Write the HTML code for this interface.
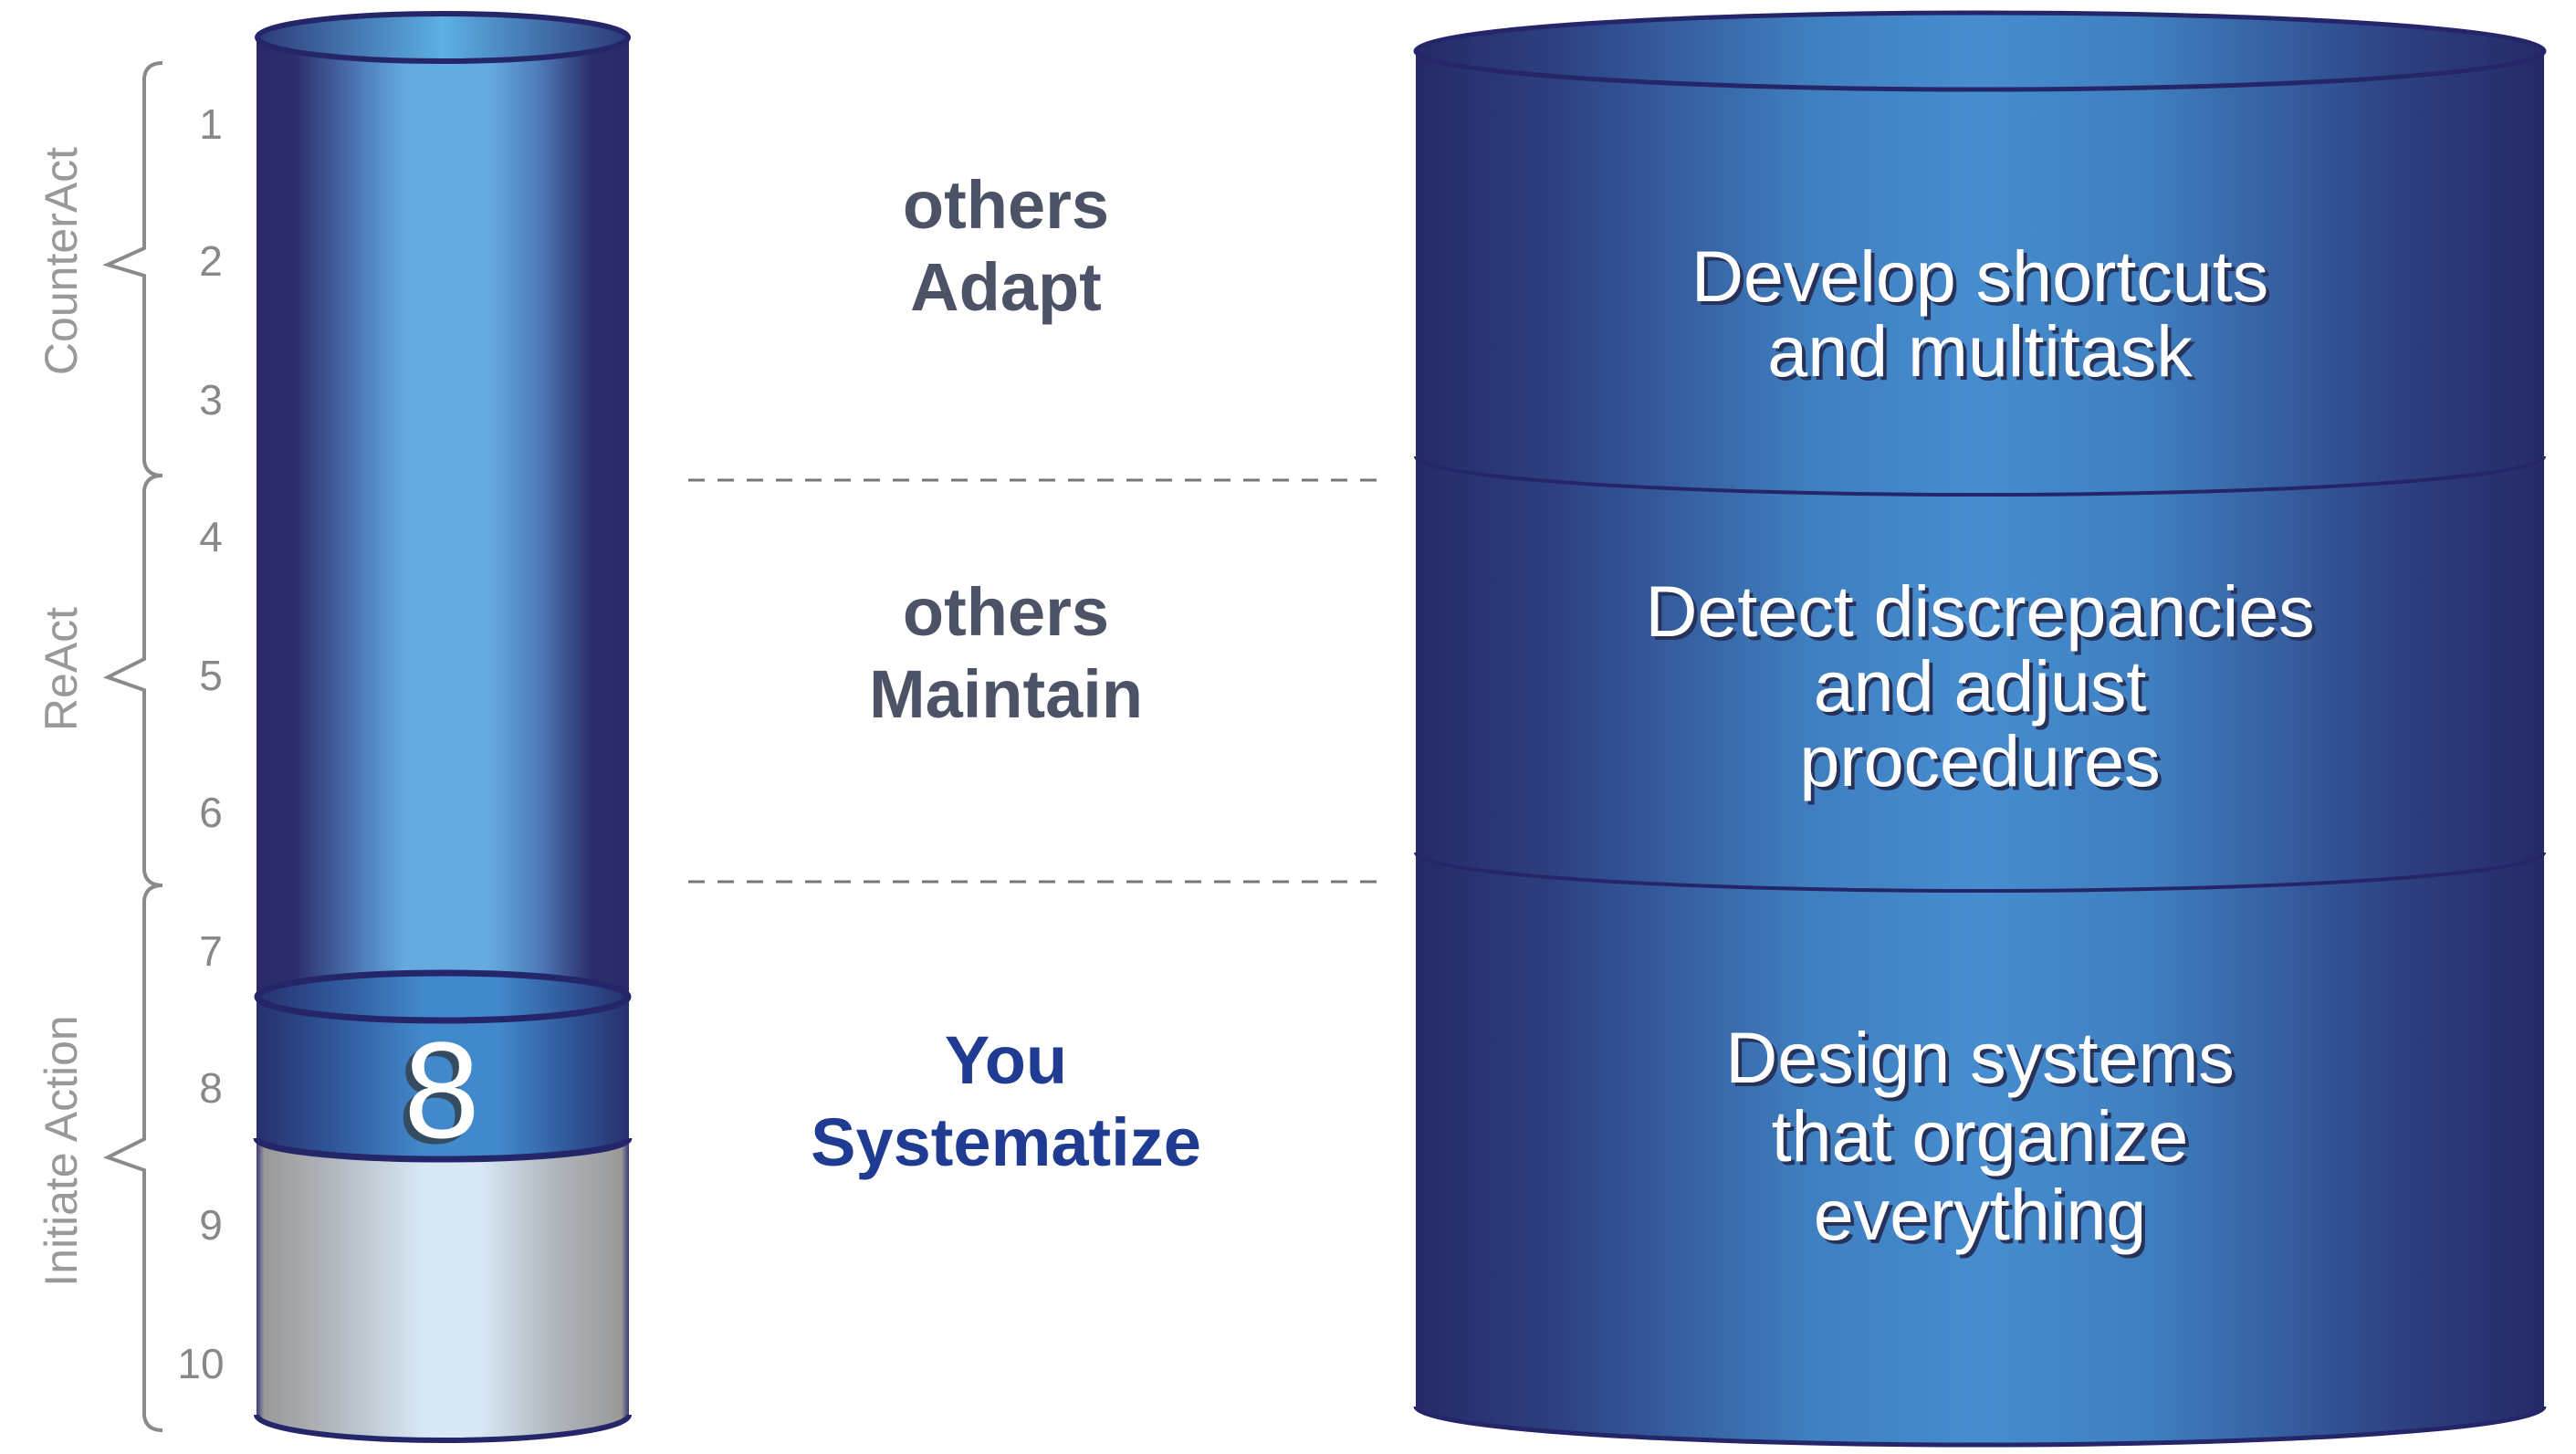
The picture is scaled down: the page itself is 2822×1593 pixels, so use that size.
<!DOCTYPE html>
<html><head><meta charset="utf-8"><style>html,body{margin:0;padding:0;background:#fff}svg{display:block}</style></head>
<body>
<svg width="2822" height="1593" viewBox="0 0 2822 1593" xmlns="http://www.w3.org/2000/svg" font-family="Liberation Sans, sans-serif">
<defs>
<linearGradient id="lc" x1="0" x2="1" y1="0" y2="0">
<stop offset="0" stop-color="#2a2a68"/><stop offset="0.1" stop-color="#2c2d6b"/><stop offset="0.3" stop-color="#5283c0"/><stop offset="0.4" stop-color="#65abdf"/><stop offset="0.62" stop-color="#65abdf"/><stop offset="0.75" stop-color="#4f80bd"/><stop offset="0.9" stop-color="#2c2d6b"/><stop offset="1" stop-color="#2a2a68"/></linearGradient>
<linearGradient id="lt" x1="0" x2="1"><stop offset="0" stop-color="#2c3a78"/><stop offset="0.5" stop-color="#5cb0e4"/><stop offset="1" stop-color="#2c3a78"/></linearGradient>
<linearGradient id="bd" x1="0" x2="1"><stop offset="0" stop-color="#27306e"/><stop offset="0.2" stop-color="#2f5597"/><stop offset="0.45" stop-color="#4289cb"/><stop offset="0.65" stop-color="#4289cb"/><stop offset="0.85" stop-color="#2f5597"/><stop offset="1" stop-color="#27306e"/></linearGradient>
<linearGradient id="gr" x1="0" x2="1"><stop offset="0" stop-color="#3a3a78"/><stop offset="0.02" stop-color="#999"/><stop offset="0.2" stop-color="#b0b6bc"/><stop offset="0.45" stop-color="#d8e8f6"/><stop offset="0.6" stop-color="#d8e8f6"/><stop offset="0.8" stop-color="#b0b6bc"/><stop offset="0.98" stop-color="#999"/><stop offset="1" stop-color="#3a3a78"/></linearGradient>
<linearGradient id="rc" x1="0" x2="1"><stop offset="0" stop-color="#262a66"/><stop offset="0.12" stop-color="#2d3f80"/><stop offset="0.35" stop-color="#3f7fc0"/><stop offset="0.5" stop-color="#468dcf"/><stop offset="0.65" stop-color="#3f7fc0"/><stop offset="0.88" stop-color="#2d3f80"/><stop offset="1" stop-color="#262a66"/></linearGradient>
<filter id="sh"><feDropShadow dx="4" dy="4" stdDeviation="0" flood-color="#27305a"/></filter>
</defs>

<!-- left cylinder -->
<path d="M281,41 L281,1247 L689,1247 L689,41 Z" fill="url(#lc)"/>
<path d="M281,1247 L281,1550 A204,28 0 0 0 689,1550 L689,1247 Z" fill="url(#gr)"/>
<path d="M281,1092 L281,1247 A204,23 0 0 0 689,1247 L689,1092 Z" fill="url(#bd)"/>
<path d="M281,1247 A204,23 0 0 0 689,1247" fill="none" stroke="#25266a" stroke-width="7"/>
<ellipse cx="485" cy="1092" rx="203" ry="26" fill="url(#bd)" stroke="#25266a" stroke-width="7"/>
<ellipse cx="485" cy="41" rx="203" ry="26" fill="url(#lt)" stroke="#25266a" stroke-width="6"/>
<path d="M281,1550 A204,28 0 0 0 689,1550" fill="none" stroke="#25266a" stroke-width="6"/>
<text x="477" y="1252" font-size="150" fill="#354b60" text-anchor="middle">8</text>
<text x="484" y="1246" font-size="150" fill="#fff" text-anchor="middle">8</text>

<!-- numbers -->
<g font-size="46" fill="#888" text-anchor="middle">
<text x="231" y="152">1</text><text x="231" y="302">2</text><text x="231" y="454">3</text><text x="231" y="604">4</text><text x="231" y="756">5</text><text x="231" y="906">6</text><text x="231" y="1058">7</text><text x="231" y="1208">8</text><text x="231" y="1358">9</text><text x="220" y="1510">10</text>
</g>
<!-- braces -->
<g fill="none" stroke="#8a8a8a" stroke-width="4">
<path d="M178,69 Q160,69 158,85 L158,272 L118,290 L158,302 L158,505 Q160,521 178,521"/>
<path d="M178,521 Q160,521 158,537 L158,722 L118,742 L158,756 L158,954 Q160,970 178,970"/>
<path d="M178,970 Q160,970 158,986 L158,1248 L118,1268 L158,1282 L158,1551 Q160,1567 178,1567"/>
</g>
<g font-size="50" fill="#999" text-anchor="middle">
<text transform="translate(84,286) rotate(-90)">CounterAct</text>
<text transform="translate(84,733) rotate(-90)">ReAct</text>
<text transform="translate(84,1261) rotate(-90)">Initiate Action</text>
</g>

<!-- middle -->
<g font-size="74" font-weight="bold" text-anchor="middle" fill="#4d5366">
<text x="1102" y="250">others</text><text x="1102" y="340">Adapt</text>
<text x="1102" y="696">others</text><text x="1102" y="786">Maintain</text>
</g>
<g font-size="74" font-weight="bold" text-anchor="middle" fill="#1f3b92">
<text x="1102" y="1187">You</text><text x="1102" y="1277">Systematize</text>
</g>
<g stroke="#777" stroke-width="3" stroke-dasharray="18,14">
<line x1="754" y1="526" x2="1522" y2="526"/><line x1="754" y1="966" x2="1522" y2="966"/>
</g>

<!-- right cylinder -->
<path d="M1551,56 L1551,1541 A618,42 0 0 0 2787,1541 L2787,56 Z" fill="url(#rc)"/>
<ellipse cx="2169" cy="56" rx="618" ry="42" fill="url(#rc)" stroke="#25266a" stroke-width="5"/>
<path d="M1551,500 A618,42 0 0 0 2787,500" fill="none" stroke="#25266a" stroke-width="4"/>
<path d="M1551,934 A618,42 0 0 0 2787,934" fill="none" stroke="#25266a" stroke-width="4"/>
<path d="M1551,1541 A618,42 0 0 0 2787,1541" fill="none" stroke="#25266a" stroke-width="5"/>
<g font-size="79" fill="#fff" text-anchor="middle" filter="url(#sh)">
<text x="2169" y="330">Develop shortcuts</text><text x="2169" y="412">and multitask</text>
<text x="2169" y="697">Detect discrepancies</text><text x="2169" y="779">and adjust</text><text x="2169" y="861">procedures</text>
<text x="2169" y="1186">Design systems</text><text x="2169" y="1272">that organize</text><text x="2169" y="1358">everything</text>
</g>
</svg>
</body></html>
